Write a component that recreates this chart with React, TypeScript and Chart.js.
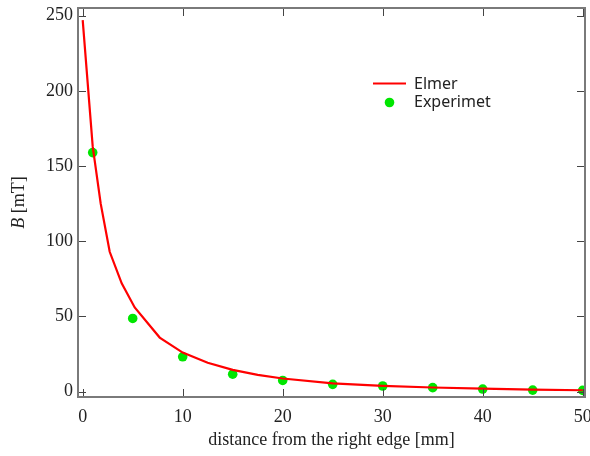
import React, { useEffect, useRef } from "react";
import { Chart, registerables } from "chart.js";

Chart.register(...registerables);

const elmerX = [0, 1, 1.8, 2.7, 3.9, 5.2, 7.7, 10, 12.5, 15, 17.5, 20, 25, 30, 35, 40, 45, 50];
const elmerY = [247, 163, 125, 93, 72, 56, 36, 26, 19.3, 14.5, 11.2, 8.8, 5.6, 3.9, 2.8, 2.0, 1.4, 1.0];

const expX = [1, 5, 10, 15, 20, 25, 30, 35, 40, 45, 50];
const expY = [158.9, 48.7, 23.2, 11.7, 7.5, 4.9, 3.8, 2.7, 1.8, 1.1, 0.9];

const xTickValues = [0, 10, 20, 30, 40, 50];
const yTickValues = [0, 50, 100, 150, 200, 250];

const seriesNames = ["Elmer", "Experimet"];
const xTitle = "distance from the right edge [mm]";
const yTitleItalic = "B";
const yTitleRest = " [mT]";

const SERIF = '"Liberation Serif", "Times New Roman", serif';

const framePlugin = {
  id: "framePlugin",
  afterDraw(chart: any) {
    const { ctx, chartArea } = chart;
    const xs = chart.scales.x;
    const ys = chart.scales.y;
    const { left, right, top, bottom } = chartArea;
    ctx.save();
    ctx.strokeStyle = "#444";
    ctx.lineWidth = 1;
    const tl = 8;
    ctx.beginPath();
    for (const v of xTickValues) {
      const px = Math.round(xs.getPixelForValue(v)) + 0.5;
      ctx.moveTo(px, bottom);
      ctx.lineTo(px, bottom - tl);
      ctx.moveTo(px, top);
      ctx.lineTo(px, top + tl);
    }
    for (const v of yTickValues) {
      const py = Math.round(ys.getPixelForValue(v)) + 0.5;
      ctx.moveTo(left, py);
      ctx.lineTo(left + tl, py);
      ctx.moveTo(right, py);
      ctx.lineTo(right - tl, py);
    }
    ctx.stroke();
    ctx.strokeStyle = "#7a7a7a";
    ctx.lineWidth = 2;
    ctx.strokeRect(left, top, right - left, bottom - top);

    const ds = chart.data.datasets;
    ctx.font = '16px "Noto Sans", sans-serif';
    ctx.textBaseline = "middle";
    ctx.textAlign = "left";
    ctx.strokeStyle = ds[0].borderColor;
    ctx.lineWidth = 2;
    ctx.beginPath();
    ctx.moveTo(373, 83.5);
    ctx.lineTo(406, 83.5);
    ctx.stroke();
    ctx.fillStyle = "#222";
    ctx.fillText(ds[0].label, 414, 84);
    ctx.fillStyle = ds[1].backgroundColor;
    ctx.beginPath();
    ctx.arc(389.5, 102.5, 4.8, 0, Math.PI * 2);
    ctx.fill();
    ctx.fillStyle = "#222";
    ctx.fillText(ds[1].label, 414, 102.5);

    ctx.translate(23.5, (top + bottom) / 2);
    ctx.rotate(-Math.PI / 2);
    ctx.textBaseline = "alphabetic";
    ctx.fillStyle = "#222";
    const fItalic = "italic 18px " + SERIF;
    const fNormal = "18px " + SERIF;
    ctx.font = fItalic;
    const w1 = ctx.measureText(yTitleItalic).width;
    ctx.font = fNormal;
    const w2 = ctx.measureText(yTitleRest).width;
    const start = -(w1 + w2) / 2;
    ctx.font = fItalic;
    ctx.fillText(yTitleItalic, start, 0);
    ctx.font = fNormal;
    ctx.fillText(yTitleRest, start + w1, 0);
    ctx.restore();
  },
};

export default function App() {
  const ref = useRef<HTMLCanvasElement>(null);
  useEffect(() => {
    if (!ref.current) return;
    const chart = new Chart(ref.current, {
      type: "scatter",
      data: {
        datasets: [
          {
            label: seriesNames[0],
            data: elmerX.map((x, i) => ({ x, y: elmerY[i] })),
            showLine: true,
            borderColor: "#ff0000",
            backgroundColor: "#ff0000",
            borderWidth: 2.2,
            pointRadius: 0,
            tension: 0,
          },
          {
            label: seriesNames[1],
            data: expX.map((x, i) => ({ x, y: expY[i] })),
            showLine: false,
            borderColor: "#00e600",
            backgroundColor: "#00e600",
            pointRadius: 4.8,
            pointBorderWidth: 0,
          },
        ],
      },
      options: {
        responsive: false,
        animation: false,
        layout: { padding: { left: 0, right: 5, top: 8, bottom: 0 } },
        plugins: { legend: { display: false }, tooltip: { enabled: false } },
        scales: {
          x: {
            type: "linear",
            min: -0.47,
            max: 50.23,
            afterBuildTicks: (s: any) => {
              s.ticks = xTickValues.map((v) => ({ value: v }));
            },
            afterFit: (s: any) => {
              s.height = 59;
              s.paddingLeft = 0;
              s.paddingRight = 0;
            },
            grid: { display: false, drawTicks: false },
            border: { display: false },
            ticks: {
              padding: 9,
              color: "#222",
              font: { family: SERIF, size: 18 },
              maxRotation: 0,
            },
            title: {
              display: true,
              text: xTitle,
              color: "#222",
              font: { family: SERIF, size: 18 },
              padding: { top: 0, bottom: 5 },
            },
          },
          y: {
            type: "linear",
            min: -3.5,
            max: 255,
            afterBuildTicks: (s: any) => {
              s.ticks = yTickValues.map((v) => ({ value: v }));
            },
            afterFit: (s: any) => {
              s.width = 78;
              s.paddingTop = 0;
              s.paddingBottom = 0;
            },
            grid: { display: false, drawTicks: false },
            border: { display: false },
            ticks: {
              padding: 5,
              color: "#222",
              font: { family: SERIF, size: 18 },
            },
          },
        },
      },
      plugins: [framePlugin],
    });
    return () => chart.destroy();
  }, []);
  return (
    <div style={{ position: "absolute", left: 0, top: 0, width: 590, height: 456, background: "#fff" }}>
      <canvas ref={ref} width={590} height={456} style={{ display: "block" }} />
    </div>
  );
}
